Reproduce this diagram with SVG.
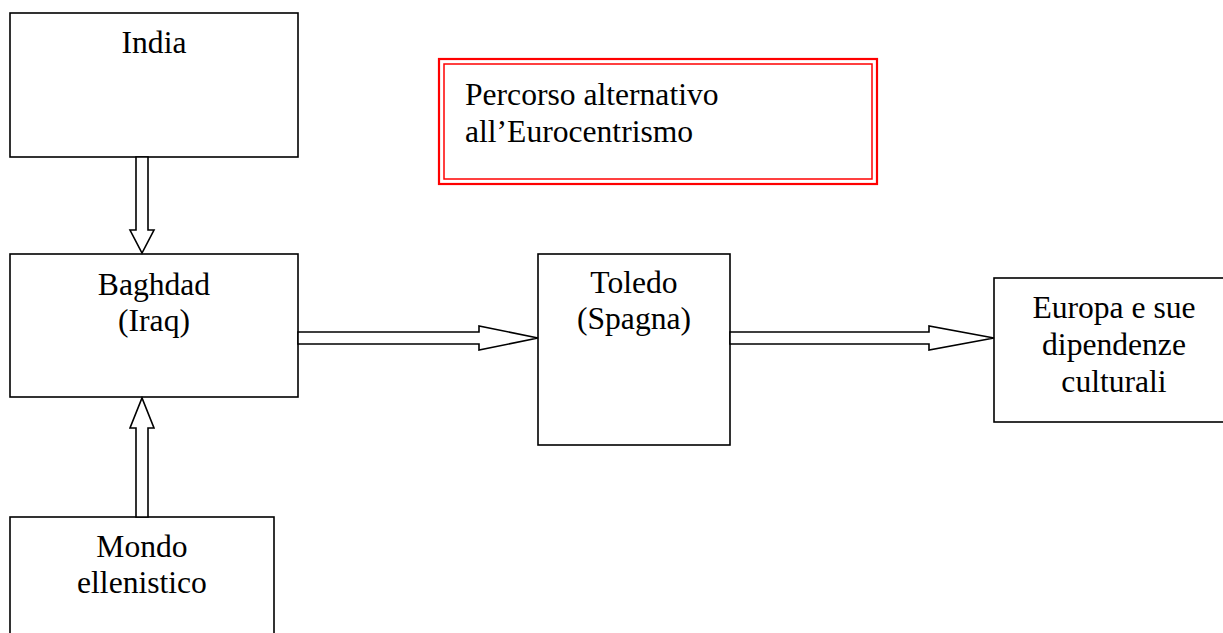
<svg xmlns="http://www.w3.org/2000/svg" width="1223" height="633" viewBox="0 0 1223 633">
<style>
.box{fill:#fff;stroke:#000;stroke-width:1.6}
.arr{fill:#fff;stroke:#000;stroke-width:1.6;stroke-linejoin:miter}
text{font-family:"Liberation Serif","Times New Roman",serif;font-size:31.6px;fill:#000}
.c{text-anchor:middle}
</style>
<rect width="1223" height="633" fill="#fff"/>
<g id="india"><rect class="box" x="10" y="13" width="288" height="144"/><text class="c" x="154" y="53">India</text></g>
<g id="baghdad"><rect class="box" x="10" y="254" width="288" height="143"/><text class="c" x="154" y="295">Baghdad</text><text class="c" x="154" y="331">(Iraq)</text></g>
<g id="mondo"><rect class="box" x="10" y="517" width="264" height="140"/><text class="c" x="142" y="557">Mondo</text><text class="c" x="142" y="593">ellenistico</text></g>
<g id="toledo"><rect class="box" x="538" y="254" width="192" height="191"/><text class="c" x="634" y="293">Toledo</text><text class="c" x="634" y="329">(Spagna)</text></g>
<g id="europa"><rect class="box" x="994" y="278" width="245" height="144"/><text class="c" x="1114" y="318">Europa e sue</text><text class="c" x="1114" y="355">dipendenze</text><text class="c" x="1114" y="392">culturali</text></g>
<g id="note"><rect x="439" y="59" width="438" height="125" fill="#fff" stroke="#f00" stroke-width="2.2"/><rect x="444" y="64" width="428" height="115" fill="none" stroke="#f00" stroke-width="1.5"/><text x="465" y="105">Percorso alternativo</text><text x="465" y="142">all’Eurocentrismo</text></g>
<g id="connectors">
<polygon class="arr" points="136,157 148,157 148,230 154,230 142,253 130,230 136,230"/>
<polygon class="arr" points="136,517 148,517 148,428 154,428 142,398 130,428 136,428"/>
<polygon class="arr" points="298,332 479,332 479,326 538,338 479,350 479,344 298,344"/>
<polygon class="arr" points="730,332 929,332 929,326 994,338 929,350 929,344 730,344"/>
</g>
</svg>
